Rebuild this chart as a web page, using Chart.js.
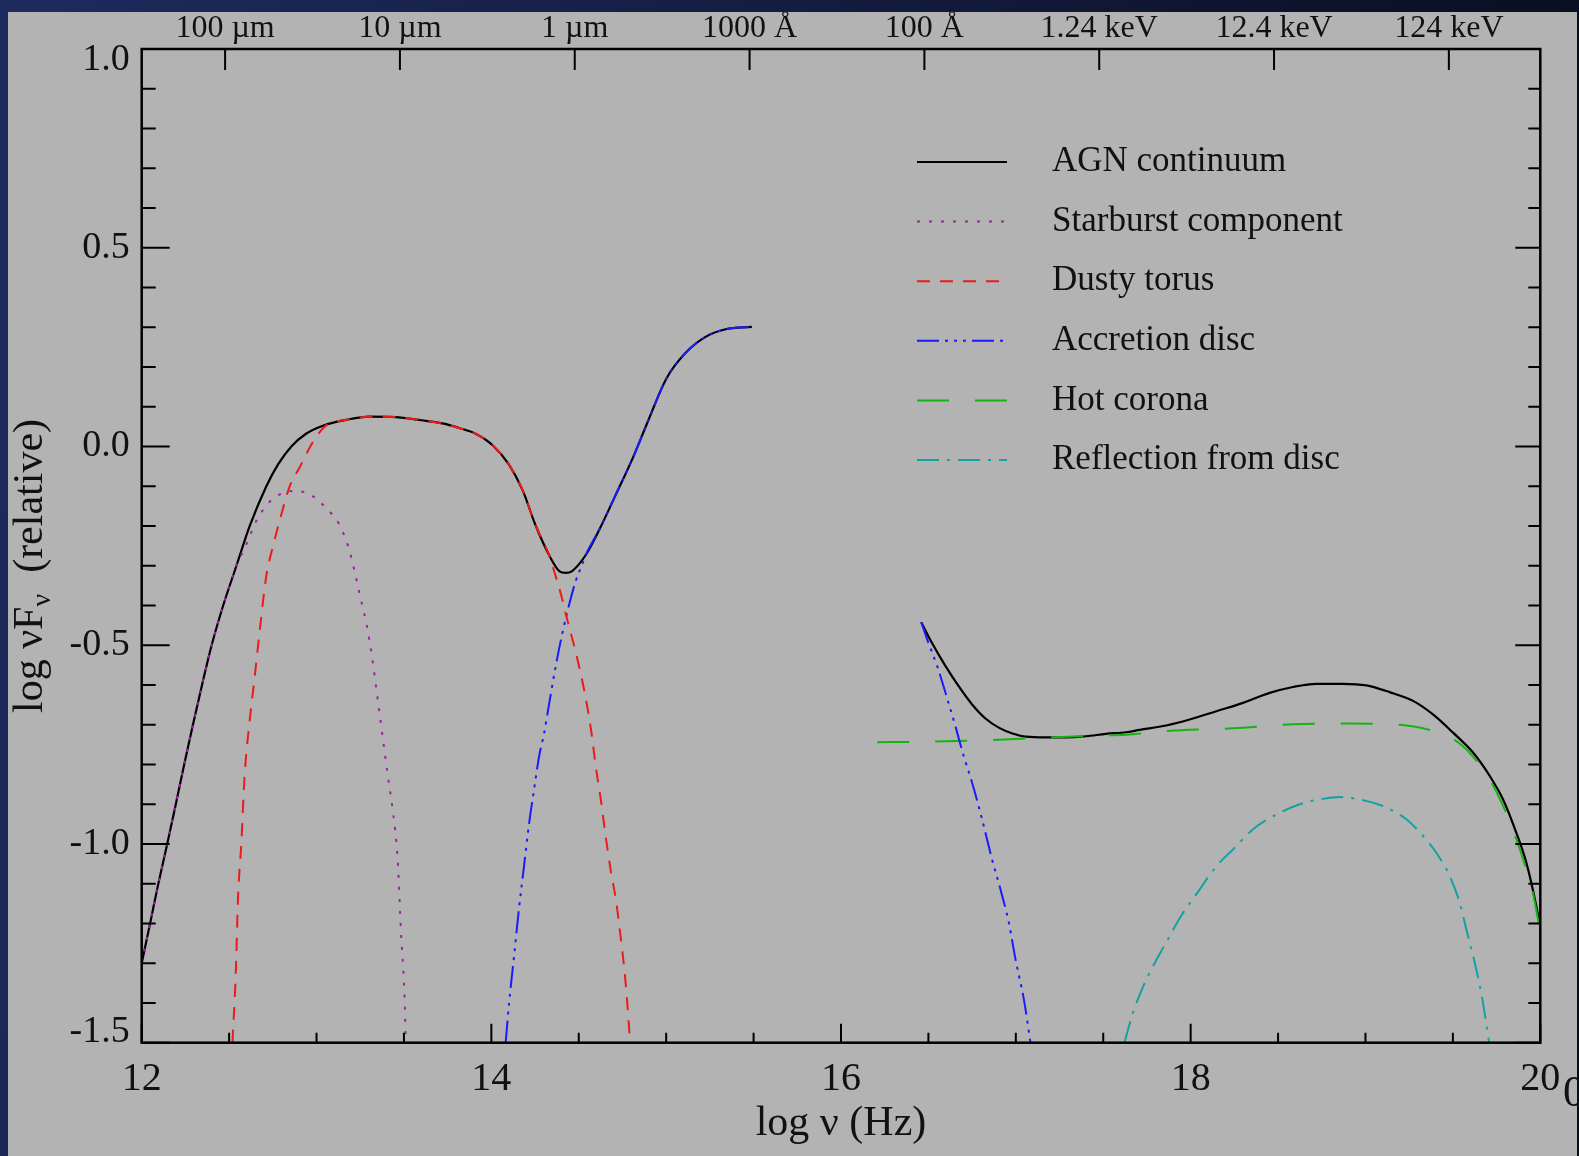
<!DOCTYPE html>
<html><head><meta charset="utf-8">
<script src="https://cdn.jsdelivr.net/npm/chart.js@4.4.0/dist/chart.umd.min.js"></script>
<style>
html,body{margin:0;padding:0;width:1579px;height:1156px;overflow:hidden;
  background:linear-gradient(100deg,#1e2b5e 0%,#141c40 45%,#080b1a 100%);}
#wrap{position:absolute;left:8px;top:12px;width:1569px;height:1144px;background:#b3b3b3;overflow:hidden;}
canvas{display:block;}
</style></head><body>
<div id="wrap"><canvas id="c" width="1569" height="1144"></canvas></div>
<script>
// ---- data (log nu [Hz], log nuF_nu relative) ----
const agnX = [12.0,12.048,12.095,12.146,12.195,12.243,12.293,12.345,12.40,12.466,12.542,12.618,12.713,12.78,12.856,12.94,13.04,13.17,13.30,13.45,13.60,13.72,13.82,13.91,14.01,14.10,14.18,14.25,14.33,14.39,14.425,14.46,14.54,14.62,14.71,14.81,14.90,15.00,15.11,15.23,15.34,15.49,
  16.0,
  16.459,16.52,16.597,16.673,16.75,16.828,16.905,16.981,17.057,17.172,17.287,17.402,17.516,17.63,17.708,17.86,17.994,18.147,18.30,18.452,18.585,18.719,18.871,19.005,19.138,19.272,19.386,19.501,19.615,19.711,19.787,19.863,19.92,19.977,19.995];
const agnY = [-1.30,-1.2,-1.1,-1.0,-0.9,-0.8,-0.7,-0.6,-0.5,-0.4,-0.3,-0.2,-0.1,-0.045,0.0,0.032,0.053,0.067,0.075,0.074,0.066,0.058,0.046,0.032,0.002,-0.045,-0.111,-0.195,-0.273,-0.314,-0.318,-0.314,-0.273,-0.207,-0.123,-0.028,0.068,0.170,0.235,0.277,0.295,0.301,
  null,
  -0.442,-0.494,-0.552,-0.603,-0.649,-0.685,-0.708,-0.722,-0.730,-0.732,-0.732,-0.729,-0.723,-0.719,-0.713,-0.702,-0.687,-0.666,-0.645,-0.620,-0.605,-0.597,-0.597,-0.601,-0.618,-0.640,-0.674,-0.720,-0.770,-0.829,-0.888,-0.972,-1.047,-1.156,-1.20];

const starX = [12.0,12.048,12.095,12.146,12.195,12.243,12.293,12.345,12.40,12.466,12.542,12.589,12.656,12.732,12.808,12.884,12.96,13.055,13.131,13.188,13.245,13.302,13.359,13.407,13.435,13.464,13.483,13.502,13.511];
const starY = [-1.30,-1.2,-1.1,-1.0,-0.9,-0.8,-0.7,-0.6,-0.5,-0.4,-0.3,-0.256,-0.187,-0.139,-0.117,-0.112,-0.120,-0.155,-0.197,-0.261,-0.368,-0.485,-0.666,-0.826,-0.912,-1.039,-1.221,-1.370,-1.5];

const torusX = [12.519,12.538,12.551,12.570,12.589,12.618,12.646,12.675,12.713,12.751,12.789,12.846,12.903,12.979,13.055,13.17,13.30,13.45,13.60,13.72,13.82,13.91,14.01,14.10,14.18,14.25,14.33,14.36,14.40,14.426,14.483,14.531,14.569,14.597,14.626,14.655,14.683,14.712,14.74,14.769,14.794];
const torusY = [-1.5,-1.327,-1.135,-0.997,-0.826,-0.688,-0.581,-0.464,-0.325,-0.251,-0.187,-0.101,-0.053,0.011,0.053,0.067,0.075,0.074,0.066,0.058,0.046,0.032,0.002,-0.045,-0.111,-0.195,-0.273,-0.315,-0.375,-0.422,-0.518,-0.613,-0.709,-0.804,-0.888,-0.984,-1.067,-1.139,-1.235,-1.354,-1.5];

const discX = [14.082,14.101,14.13,14.158,14.187,14.216,14.244,14.273,14.302,14.33,14.368,14.406,14.445,14.483,14.521,14.54,14.62,14.71,14.81,14.90,15.00,15.11,15.23,15.34,15.49,
  16.0,
  16.459,16.50,16.55,16.606,16.654,16.702,16.75,16.807,16.864,16.912,16.96,16.998,17.046,17.084];
const discY = [-1.5,-1.402,-1.282,-1.163,-1.055,-0.948,-0.864,-0.78,-0.721,-0.649,-0.553,-0.470,-0.398,-0.338,-0.295,-0.273,-0.207,-0.123,-0.028,0.068,0.170,0.235,0.277,0.295,0.301,
  null,
  -0.442,-0.494,-0.552,-0.632,-0.703,-0.779,-0.846,-0.938,-1.039,-1.114,-1.198,-1.29,-1.391,-1.5];

const coronaX = [16.207,16.45,16.75,17.0,17.13,17.3,17.479,17.63,17.86,18.242,18.585,18.91,19.234,19.329,19.491,19.577,19.711,19.796,19.863,19.92,19.958,19.995];
const coronaY = [-0.744,-0.743,-0.740,-0.736,-0.733,-0.730,-0.727,-0.725,-0.716,-0.709,-0.699,-0.697,-0.702,-0.709,-0.733,-0.762,-0.838,-0.913,-0.988,-1.064,-1.123,-1.21];

const reflX = [17.621,17.67,17.73,17.80,17.87,17.94,18.035,18.147,18.242,18.357,18.49,18.624,18.738,18.852,18.967,19.10,19.234,19.329,19.405,19.482,19.539,19.577,19.634,19.672,19.707];
const reflY = [-1.5,-1.425,-1.357,-1.295,-1.24,-1.185,-1.125,-1.056,-1.014,-0.963,-0.926,-0.900,-0.888,-0.882,-0.888,-0.905,-0.938,-0.980,-1.022,-1.081,-1.148,-1.215,-1.316,-1.399,-1.5];

const seriesLabels = ['AGN continuum','Starburst component','Dusty torus','Accretion disc','Hot corona','Reflection from disc'];

// ---- axis ticks and labels ----
const topTickValues = [12.477,13.477,14.477,15.477,16.477,17.477,18.477,19.477];
const topTickLabels = ['100 \u00b5m','10 \u00b5m','1 \u00b5m','1000 \u00c5','100 \u00c5','1.24 keV','12.4 keV','124 keV'];
const xTickValues = [12,12.5,13,13.5,14,14.5,15,15.5,16,16.5,17,17.5,18,18.5,19,19.5,20];
const yTickValues = [-1.5,-1.4,-1.3,-1.2,-1.1,-1.0,-0.9,-0.8,-0.7,-0.6,-0.5,-0.4,-0.3,-0.2,-0.1,0.0,0.1,0.2,0.3,0.4,0.5,0.6,0.7,0.8,0.9,1.0];
const yLabelValues = [-1.5,-1.0,-0.5,0.0,0.5,1.0];
const yLabelTexts = ['-1.5','-1.0','-0.5','0.0','0.5','1.0'];
const xTitle = 'log \u03bd (Hz)';

const SERIF = '"Liberation Serif", "DejaVu Serif", serif';
const pts = (xs, ys) => xs.map((x, i) => ({x: x, y: ys[i]}));

const AREA = {left:133.7, top:37, right:1532.3, bottom:1030.7};
const W = 1569, H = 1144;
// end labels of the y axis sit a little inside the frame (pixels)
const Y_END_NUDGE = 11;

const frameTicks = {
  id: 'frameTicks',
  afterDatasetsDraw(chart) {
    const {ctx, chartArea: a, scales} = chart;
    const x = scales.x, y = scales.y;
    ctx.save();
    ctx.strokeStyle = '#000';
    ctx.lineWidth = 2;
    ctx.beginPath();
    xTickValues.forEach(v => {
      const px = x.getPixelForValue(v);
      const major = Math.abs(v / 2 - Math.round(v / 2)) < 1e-6;
      ctx.moveTo(px, a.bottom); ctx.lineTo(px, a.bottom - (major ? 19 : 10));
    });
    topTickValues.forEach(v => {
      const px = x.getPixelForValue(v);
      ctx.moveTo(px, a.top); ctx.lineTo(px, a.top + 21);
    });
    yTickValues.forEach(v => {
      const py = y.getPixelForValue(v);
      const major = Math.abs(v * 2 - Math.round(v * 2)) < 1e-6;
      ctx.moveTo(a.left, py); ctx.lineTo(a.left + (major ? 28 : 14), py);
      ctx.moveTo(a.right, py); ctx.lineTo(a.right - (major ? 25 : 12), py);
    });
    ctx.stroke();
    ctx.lineWidth = 2.5;
    ctx.strokeRect(a.left, a.top, a.right - a.left, a.bottom - a.top);
    ctx.restore();
  },
  afterDraw(chart) {
    const {ctx} = chart;
    // legend
    ctx.save();
    chart.data.datasets.forEach((ds, i) => {
      const yy = 150 + 59.6 * i;
      ctx.strokeStyle = ds.borderColor;
      ctx.lineWidth = 2;
      ctx.setLineDash(ds.borderDash || []);
      ctx.beginPath();
      ctx.moveTo(909, yy); ctx.lineTo(999, yy);
      ctx.stroke();
      ctx.setLineDash([]);
      ctx.fillStyle = '#111';
      ctx.font = '35px ' + SERIF;
      ctx.textBaseline = 'middle';
      ctx.textAlign = 'left';
      ctx.fillText(ds.label, 1044, yy);
    });
    ctx.restore();
    // y-axis title with subscript
    ctx.save();
    ctx.fillStyle = '#111';
    ctx.translate(34, 554);
    ctx.rotate(-Math.PI / 2);
    ctx.textBaseline = 'alphabetic';
    const big = '42px ' + SERIF, small = '28px ' + SERIF;
    const p1 = 'log \u03bdF', p2 = '\u03bd', p3 = '  (relative)';
    ctx.font = big; const w1 = ctx.measureText(p1).width; const w3 = ctx.measureText(p3).width;
    ctx.font = small; const w2 = ctx.measureText(p2).width;
    let sx = -(w1 + w2 + w3) / 2;
    ctx.font = big; ctx.textAlign = 'left';
    ctx.fillText(p1, sx, 0); sx += w1;
    ctx.font = small; ctx.fillText(p2, sx, 8); sx += w2;
    ctx.font = big; ctx.fillText(p3, sx, 0);
    ctx.restore();
    // clipped stray glyph right of "20"
    ctx.save();
    ctx.fillStyle = '#111';
    ctx.font = '44px ' + SERIF;
    ctx.textBaseline = 'top';
    ctx.fillText('0', 1555, 1060);
    ctx.restore();
  }
};

const common = {showLine: true, pointRadius: 0, borderWidth: 2, fill: false, spanGaps: false, cubicInterpolationMode: 'monotone'};

new Chart(document.getElementById('c'), {
  type: 'scatter',
  data: {
    datasets: [
      Object.assign({}, common, {label: seriesLabels[0], data: pts(agnX, agnY), borderColor: '#000000', borderWidth: 2.2, borderDash: [], order: 1}),
      Object.assign({}, common, {label: seriesLabels[1], data: pts(starX, starY), borderColor: '#a020a8', borderDash: [3, 9], order: 0}),
      Object.assign({}, common, {label: seriesLabels[2], data: pts(torusX, torusY), borderColor: '#ee1a1a', borderDash: [13, 10], order: 0}),
      Object.assign({}, common, {label: seriesLabels[3], data: pts(discX, discY), borderColor: '#1a1aff', borderDash: [22, 6, 3, 6, 3, 6, 3, 6], order: 0}),
      Object.assign({}, common, {label: seriesLabels[4], data: pts(coronaX, coronaY), borderColor: '#14b414', borderDash: [32, 26], order: 0}),
      Object.assign({}, common, {label: seriesLabels[5], data: pts(reflX, reflY), borderColor: '#12a2a2', borderDash: [22, 8, 3, 8], order: 0})
    ]
  },
  options: {
    responsive: false,
    animation: false,
    devicePixelRatio: 1,
    layout: {padding: {left: 0, top: 0, right: W - AREA.right, bottom: 0}},
    plugins: {legend: {display: false}, tooltip: {enabled: false}},
    scales: {
      x: {
        type: 'linear', position: 'bottom', min: 12, max: 20,
        afterFit: s => { s.height = H - AREA.bottom; },
        ticks: {stepSize: 2, color: '#111', font: {family: SERIF, size: 40}, padding: 13, maxRotation: 0},
        grid: {display: false, drawTicks: false},
        border: {display: false},
        title: {display: true, text: xTitle, color: '#111', font: {family: SERIF, size: 42}, padding: {top: 0, bottom: 7}}
      },
      xTop: {
        type: 'linear', position: 'top', min: 12, max: 20,
        afterFit: s => { s.height = AREA.top; },
        afterBuildTicks: s => { s.ticks = topTickValues.map(v => ({value: v})); },
        ticks: {color: '#111', font: {family: SERIF, size: 32}, padding: 1, maxRotation: 0, autoSkip: false,
          callback: (v, i) => topTickLabels[i]},
        grid: {display: false, drawTicks: false},
        border: {display: false}
      },
      y: {
        type: 'linear', position: 'left', min: -1.5, max: 1.0,
        afterFit: s => { s.width = AREA.left; },
        afterBuildTicks: s => {
          const unit = (s.max - s.min) / (AREA.bottom - AREA.top);
          s.ticks = yLabelValues.map(v => ({value: v === s.max ? v - Y_END_NUDGE * unit : (v === s.min ? v + Y_END_NUDGE * unit : v)}));
        },
        ticks: {color: '#111', font: {family: SERIF, size: 38}, padding: 12, autoSkip: false,
          callback: (v, i) => yLabelTexts[i]},
        grid: {display: false, drawTicks: false},
        border: {display: false}
      }
    }
  },
  plugins: [frameTicks]
});
</script>
</body></html>
